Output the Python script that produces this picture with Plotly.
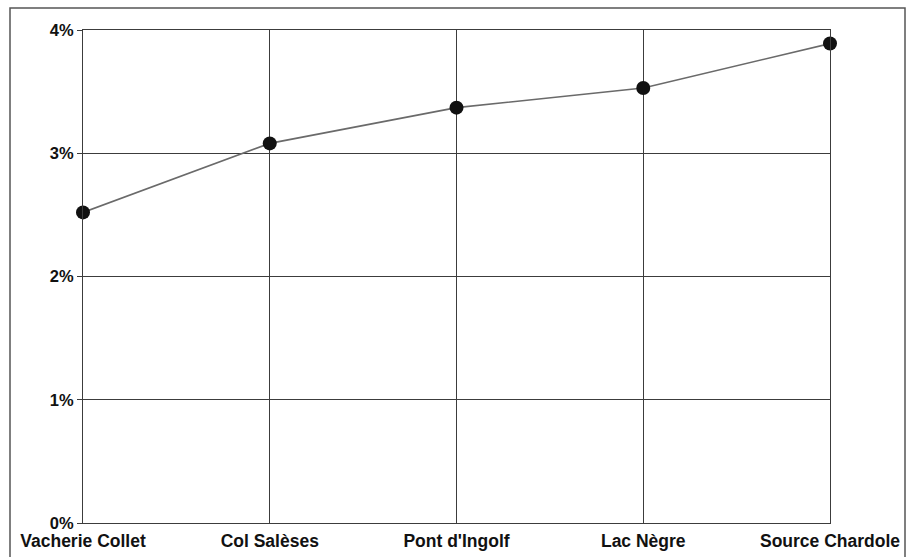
import plotly.graph_objects as go

sites = ["Vacherie Collet", "Col Salèses", "Pont d'Ingolf", "Lac Nègre", "Source Chardole"]
values = [2.52, 3.08, 3.37, 3.53, 3.89]
y_ticks = [0, 1, 2, 3, 4]

fig = go.Figure()
fig.add_trace(go.Scatter(
    x=sites, y=values, mode="lines+markers",
    line=dict(color="#6a6a6a", width=1.6),
    marker=dict(color="#111111", size=14),
    showlegend=False, cliponaxis=False,
))

W, H = 909, 557
L, R, T, B = 83, 79, 30, 34
pw, ph = W - L - R, H - T - B

fig.update_layout(
    width=W, height=H,
    margin=dict(l=L, r=R, t=T, b=B),
    paper_bgcolor="white", plot_bgcolor="white",
    font=dict(family="Liberation Sans, Arial", size=13, color="#111"),
    xaxis=dict(
        type="category", range=[0, 4], showgrid=True, gridcolor="#3c3c3c", gridwidth=1,
        showline=True, linecolor="#3c3c3c", mirror=True, ticks="", zeroline=False,
        tickfont=dict(size=17.5, family="Liberation Sans, Arial", weight="bold"),
        ticklabelstandoff=2, automargin=False,
    ),
    yaxis=dict(
        range=[0, 4], tickvals=y_ticks, ticktext=[f"{v}%" for v in y_ticks],
        showgrid=True, gridcolor="#3c3c3c", gridwidth=1,
        showline=True, linecolor="#3c3c3c", mirror=True, zeroline=False,
        ticks="outside", ticklen=5, tickcolor="#3c3c3c", automargin=False,
        tickfont=dict(size=16.5, family="Liberation Sans, Arial", weight="bold"),
    ),
    shapes=[dict(
        type="rect", xref="paper", yref="paper",
        x0=(10 - L) / pw, x1=(905 - L) / pw,
        y0=(H - B - 570) / ph, y1=(H - B - 8) / ph,
        line=dict(color="#555", width=1.5), layer="below",
    )],
)

fig.write_html("out.html", config={"displayModeBar": False},
               post_script="document.body.style.margin='0';")
